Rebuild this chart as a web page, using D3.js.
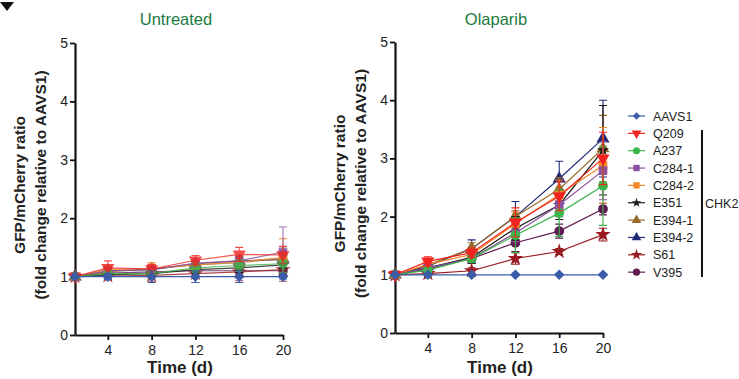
<!DOCTYPE html>
<html><head><meta charset="utf-8">
<script src="https://cdn.jsdelivr.net/npm/d3@7"></script>
<style>body{margin:0;background:#fff}svg{display:block;font-family:"Liberation Sans",Arial,sans-serif}</style>
</head><body><svg id="c" width="739" height="379"></svg>
<script>
const days = [1, 4, 8, 12, 16, 20];
const xTicks = [4, 8, 12, 16, 20];
const yTicks = [0, 1, 2, 3, 4, 5];
const seriesNames = ["AAVS1","Q209","A237","C284-1","C284-2","E351","E394-1","E394-2","S61","V395"];
const seriesColors = ["#3b5ca8","#f2231f","#3cb54a","#8d4f9f","#f4892b","#1a1a1a","#9b6b2c","#202a78","#9a1c22","#5e1b52"];
const seriesShapes = ["diamond","tridown","circle","square","square","star","triangle","triangle","asterisk","circle"];
const panelTitles = ["Untreated","Olaparib"];

const untreatedValues = [
  [1,1.00,1.00,1.00,1.00,1.00],
  [1,1.15,1.13,1.28,1.38,1.37],
  [1,1.05,1.05,1.15,1.19,1.22],
  [1,1.10,1.12,1.23,1.27,1.42],
  [1,1.12,1.14,1.20,1.25,1.33],
  [1,1.03,1.05,1.12,1.15,1.20],
  [1,1.08,1.13,1.20,1.24,1.31],
  [1,1.10,1.12,1.22,1.27,1.29],
  [1,1.01,1.02,1.05,1.08,1.12],
  [1,1.06,1.08,1.10,1.10,1.10]
];
const untreatedErrors = [
  [0.02,0.05,0.10,0.10,0.10,0.04],
  [0.03,0.12,0.08,0.08,0.12,0.15],
  [0.02,0.05,0.05,0.08,0.10,0.15],
  [0.02,0.05,0.05,0.05,0.08,0.43],
  [0.02,0.05,0.10,0.08,0.10,0.32],
  [0.02,0.05,0.05,0.05,0.08,0.10],
  [0.02,0.05,0.05,0.05,0.08,0.20],
  [0.02,0.05,0.05,0.05,0.08,0.15],
  [0.02,0.05,0.10,0.15,0.15,0.20],
  [0.02,0.03,0.05,0.05,0.05,0.10]
];
const olaparibValues = [
  [1,1.00,1.00,1.00,1.00,1.00],
  [1,1.23,1.38,1.90,2.35,3.00],
  [1,1.08,1.28,1.68,2.06,2.53],
  [1,1.12,1.28,1.72,2.20,2.79],
  [1,1.18,1.35,1.88,2.38,2.88],
  [1,1.12,1.30,1.80,2.20,3.14],
  [1,1.17,1.45,2.00,2.47,3.17],
  [1,1.15,1.45,2.00,2.65,3.34],
  [1,1.02,1.07,1.28,1.40,1.69],
  [1,1.10,1.28,1.55,1.75,2.13]
];
const olaparibErrors = [
  [0.01,0.01,0.01,0.01,0.01,0.01],
  [0.02,0.08,0.08,0.25,0.25,0.45],
  [0.02,0.05,0.06,0.30,0.40,0.68],
  [0.02,0.05,0.06,0.15,0.20,0.50],
  [0.02,0.05,0.08,0.20,0.25,0.65],
  [0.02,0.05,0.10,0.20,0.25,0.77],
  [0.02,0.05,0.10,0.10,0.20,0.57],
  [0.02,0.05,0.15,0.26,0.30,0.66],
  [0.01,0.02,0.05,0.10,0.05,0.11],
  [0.02,0.04,0.08,0.15,0.12,0.10]
];

const svg = d3.select("#c");

// fragment of panel letter at top-left
svg.append("path").attr("d","M0,2 L14,2 L7,11 Z").attr("fill","#111");

function symbolPath(shape, size) {
  let type;
  switch (shape) {
    case "diamond": type = d3.symbolSquare; size = size * 0.75; break;
    case "circle": type = d3.symbolCircle; break;
    case "square": type = d3.symbolSquare; break;
    case "star": type = d3.symbolStar; break;
    case "asterisk": type = d3.symbolStar; break;
    default: type = d3.symbolTriangle;
  }
  return d3.symbol().type(type).size(size)();
}
function shapeTransform(shape) {
  if (shape === "tridown") return " rotate(180)";
  if (shape === "diamond") return " rotate(45)";
  return "";
}

function drawPanel(p, x0, x1, yb, yt, values, errors, faded) {
  const g = svg.append("g");
  const x = d3.scaleLinear().domain([1, 20]).range([x0, x1]);
  const y = d3.scaleLinear().domain([0, 5]).range([yb, yt]);

  const xa = g.append("g").attr("transform", `translate(0,${yb})`)
    .call(d3.axisBottom(x).tickValues(xTicks).tickSize(5).tickSizeOuter(0).tickPadding(5));
  const ya = g.append("g").attr("transform", `translate(${x0},0)`)
    .call(d3.axisLeft(y).tickValues(yTicks).tickFormat(d3.format("d")).tickSize(5).tickSizeOuter(0).tickPadding(2));
  [xa, ya].forEach(a => {
    a.select(".domain").attr("stroke", "#111").attr("stroke-width", 2.2);
    a.selectAll(".tick line").attr("stroke", "#111").attr("stroke-width", 1.8);
    a.selectAll(".tick text").attr("fill", "#222").style("font-size", "14px")
      .style("font-family", "'Liberation Sans',Arial,sans-serif");
  });

  g.append("text").attr("x", (x0 + x1) / 2 - 3).attr("y", 25).attr("text-anchor", "middle")
    .attr("fill", "#1c7a3d").style("font-size", "16.5px").text(panelTitles[p]);
  g.append("text").attr("x", (x0 + x1) / 2 + 1).attr("y", 373).attr("text-anchor", "middle")
    .attr("fill", "#222").style("font-size", "17px").style("font-weight", "bold").text("Time (d)");

  const lx = x0 - 50, cy = (yb + yt) / 2 - 4;
  const lab = g.append("text").attr("transform", `translate(${lx},${cy}) rotate(-90)`)
    .attr("text-anchor", "middle").attr("fill", "#222").style("font-size", "15.5px").style("font-weight", "bold");
  lab.append("tspan").attr("x", 0).attr("dy", 0).text("GFP/mCherry ratio");
  lab.append("tspan").attr("x", 0).attr("dy", 21).text("(fold change relative to AAVS1)");

  const line = d3.line().x((d, i) => x(days[i])).y(d => y(d));
  for (let s = seriesNames.length - 1; s >= 0; s--) {
    const col = seriesColors[s];
    const sg = g.append("g").attr("opacity", faded && s > 0 ? 0.8 : 1);
    sg.append("path").attr("d", line(values[s])).attr("fill", "none").attr("stroke", col).attr("stroke-width", 1.2);
    values[s].forEach((v, i) => {
      const e = errors[s][i];
      const cx = x(days[i]);
      sg.append("path")
        .attr("d", `M${cx},${y(v - e)}V${y(v + e)}M${cx - 4},${y(v + e)}H${cx + 4}M${cx - 4},${y(v - e)}H${cx + 4}`)
        .attr("stroke", col).attr("stroke-width", 1.1).attr("fill", "none");
    });
    values[s].forEach((v, i) => {
      const sh = seriesShapes[s];
      sg.append("path").attr("d", symbolPath(sh, sh === "star" ? 45 : 75))
        .attr("transform", `translate(${x(days[i])},${y(v)})` + shapeTransform(sh))
        .attr("fill", col);
    });
  }
}

drawPanel(0, 75, 283, 335, 43, untreatedValues, untreatedErrors, true);
drawPanel(1, 395, 603, 333, 42, olaparibValues, olaparibErrors, false);

// legend
const leg = svg.append("g");
seriesNames.forEach((n, i) => {
  const yy = 116 + i * 17.35;
  const col = seriesColors[i];
  leg.append("line").attr("x1", 628).attr("x2", 645).attr("y1", yy).attr("y2", yy)
    .attr("stroke", col).attr("stroke-width", 1.2);
  const sh = seriesShapes[i];
  leg.append("path").attr("d", symbolPath(sh, sh === "star" ? 28 : 40))
    .attr("transform", `translate(636.5,${yy})` + shapeTransform(sh)).attr("fill", col);
  leg.append("text").attr("x", 653).attr("y", yy + 4.5).attr("fill", "#222")
    .style("font-size", "12.5px").text(n);
});
leg.append("line").attr("x1", 702).attr("x2", 702).attr("y1", 130).attr("y2", 277)
  .attr("stroke", "#111").attr("stroke-width", 2);
leg.append("text").attr("x", 705).attr("y", 208).attr("fill", "#222").style("font-size", "12.5px").text("CHK2");
</script></body></html>
